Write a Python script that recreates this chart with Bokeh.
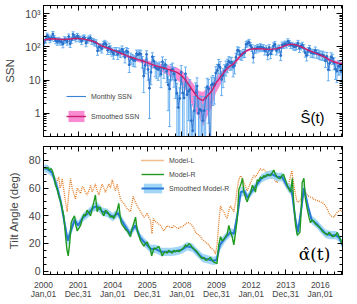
import numpy as np
from bokeh.plotting import figure
from bokeh.layouts import column
from bokeh.models import (Range1d, FixedTicker, LinearAxis, LogAxis, Legend,
                          LegendItem, Label, CustomJSTickFormatter)
from bokeh.embed import file_html
from bokeh.resources import INLINE

FONT = "Liberation Sans"

# ---------------- data ----------------
x_ticks = [2000, 2002, 2004, 2006, 2008, 2010, 2012, 2014, 2016]
x_tick_labels = ["2000\nJan,01", "2001\nDec,31", "2004\nJan,01", "2005\nDec,31",
                 "2008\nJan,01", "2009\nDec,31", "2012\nJan,01", "2013\nDec,31",
                 "2016\nJan,01"]

ssn_start_year = 2000
ssn_monthly = [
    133.1, 165.7, 217.7, 191.5, 165.9, 188.0, 244.3, 180.5, 156.0, 141.6, 158.1, 143.3,
    142.6, 121.5, 165.8, 161.7, 142.1, 202.9, 123.0, 161.5, 238.2, 194.1, 176.6, 213.4,
    184.6, 170.2, 147.1, 186.9, 187.5, 128.8, 161.0, 175.6, 187.9, 151.2, 147.2, 135.3,
    133.5, 75.7, 100.7, 97.9, 86.8, 118.7, 128.3, 115.4, 78.5, 97.8, 82.9, 72.2,
    60.6, 74.6, 74.8, 59.2, 72.8, 66.5, 83.8, 69.7, 48.8, 74.2, 70.1, 28.9,
    48.1, 43.5, 39.6, 38.7, 61.9, 56.8, 62.4, 60.5, 37.2, 13.2, 27.5, 59.3,
    20.9, 5.7, 17.3, 50.3, 37.2, 24.5, 22.2, 20.8, 23.7, 14.9, 35.7, 22.3,
    29.3, 18.4, 7.2, 5.4, 19.5, 21.3, 15.1, 9.8, 4.0, 1.5, 2.8, 17.3,
    4.1, 2.9, 15.5, 3.6, 4.6, 5.2, 0.6, 0.3, 1.2, 4.2, 6.6, 1.0,
    1.3, 1.2, 0.6, 1.2, 2.9, 6.3, 5.5, 0.0, 7.1, 7.7, 6.9, 16.3,
    19.5, 28.5, 24.0, 10.4, 13.9, 18.8, 25.2, 29.6, 36.4, 33.6, 34.4, 24.5,
    27.3, 48.3, 78.6, 76.1, 58.2, 56.1, 64.5, 65.8, 120.1, 125.7, 139.1, 109.3,
    94.4, 47.8, 86.6, 85.9, 96.5, 92.0, 100.1, 94.8, 93.7, 76.5, 87.6, 56.8,
    96.1, 60.9, 78.3, 107.3, 120.2, 76.7, 86.2, 91.8, 54.5, 114.4, 113.9, 124.2,
    117.0, 146.1, 128.7, 112.5, 112.5, 102.9, 100.2, 106.9, 130.0, 90.0, 103.6, 112.9,
    93.0, 66.7, 54.5, 75.3, 88.8, 66.5, 65.8, 64.4, 78.6, 63.6, 62.2, 58.0,
    57.0, 56.4, 54.1, 37.9, 51.5, 20.5, 32.4, 50.2, 44.6, 33.4, 21.4, 18.5,
    26.1, 26.4, 17.7, 32.3]
ssn_err = [
    30, 35, 40, 38, 34, 36, 45, 36, 32, 30, 33, 30,
    30, 28, 35, 34, 30, 40, 27, 34, 45, 38, 36, 40,
    37, 34, 31, 37, 37, 28, 33, 35, 37, 31, 31, 29,
    28, 20, 24, 24, 22, 27, 28, 26, 20, 30, 24, 20,
    18, 20, 20, 18, 20, 19, 22, 19, 16, 20, 19, 12,
    16, 15, 14, 14, 18, 17, 18, 18, 14, 9, 12, 17,
    11, 5, 10, 16, 14, 12, 11, 11, 11, 9, 14, 11,
    12, 10, 6, 5, 10, 11, 9, 7, 4, 2, 3, 10,
    4, 3, 9, 4, 4, 5, 1.2, 0.8, 2, 4, 5, 1.8,
    2, 2, 1.2, 2, 3, 5, 5, 0, 5, 6, 5, 9,
    10, 13, 12, 7, 8, 10, 12, 13, 14, 14, 14, 12,
    12, 16, 21, 20, 17, 17, 18, 18, 25, 26, 28, 24,
    22, 15, 21, 21, 22, 22, 23, 22, 22, 20, 21, 16,
    22, 17, 20, 24, 25, 20, 21, 22, 16, 24, 24, 25,
    25, 28, 26, 24, 24, 23, 23, 24, 26, 22, 23, 24,
    22, 18, 17, 20, 21, 18, 18, 18, 20, 18, 18, 17,
    17, 17, 16, 14, 16, 11, 13, 16, 15, 13, 11, 10,
    12, 12, 10, 13]

# smoothed SSN: (time, value, uncertainty)
ssn_smoothed = [
    (2000.04, 160, 8), (2000.29, 172, 8), (2000.54, 175, 8), (2000.79, 172, 8),
    (2001.04, 166, 8), (2001.29, 167, 8), (2001.54, 172, 8), (2001.79, 178, 8), (2001.96, 180, 8),
    (2002.21, 175, 8), (2002.46, 165, 8), (2002.71, 155, 8), (2002.96, 140, 7),
    (2003.21, 118, 7), (2003.46, 102, 6), (2003.71, 92, 6), (2003.96, 82, 6),
    (2004.21, 72, 6), (2004.46, 64, 6), (2004.71, 57, 6), (2004.96, 50, 6),
    (2005.21, 46, 6), (2005.46, 41, 6), (2005.71, 38, 6), (2005.96, 34, 6),
    (2006.21, 30, 6), (2006.46, 27, 6), (2006.71, 25, 6), (2006.96, 23, 7),
    (2007.21, 21, 7), (2007.46, 19, 7), (2007.71, 17, 7), (2007.96, 14, 6),
    (2008.21, 10, 5), (2008.46, 6.5, 4), (2008.71, 4.2, 3), (2008.96, 2.8, 2),
    (2009.21, 2.4, 2), (2009.46, 3.3, 2.5), (2009.71, 4.5, 3), (2009.96, 8, 4),
    (2010.21, 12, 5), (2010.46, 18, 5), (2010.71, 25, 5), (2010.96, 30, 5),
    (2011.21, 42, 6), (2011.46, 60, 6), (2011.71, 75, 7), (2011.96, 85, 7),
    (2012.21, 87, 7), (2012.46, 88, 7), (2012.71, 86, 7), (2012.96, 84, 7),
    (2013.21, 85, 7), (2013.46, 88, 7), (2013.71, 95, 7), (2013.96, 108, 7),
    (2014.29, 120, 7), (2014.54, 115, 7), (2014.79, 105, 7),
    (2015.04, 92, 7), (2015.29, 80, 6), (2015.54, 70, 6), (2015.79, 62, 6),
    (2016.04, 55, 6), (2016.29, 48, 5), (2016.54, 40, 5), (2016.79, 35, 5),
    (2017.04, 32, 5), (2017.29, 30, 5)]

# tilt angles (deg): (time, value)
model_l = [
    (2000.05, 75), (2000.15, 74), (2000.25, 75), (2000.35, 72), (2000.45, 73), (2000.55, 70),
    (2000.62, 68), (2000.69, 67), (2000.75, 62), (2000.82, 66), (2000.89, 68), (2000.95, 60),
    (2001.02, 62), (2001.08, 67), (2001.18, 58), (2001.27, 50), (2001.37, 43), (2001.45, 55),
    (2001.56, 67), (2001.66, 60), (2001.75, 56), (2001.85, 52), (2001.95, 60), (2002.05, 58),
    (2002.14, 56), (2002.24, 61), (2002.33, 60), (2002.42, 57), (2002.52, 55), (2002.62, 58),
    (2002.72, 62), (2002.81, 57), (2002.91, 60), (2003.0, 63), (2003.1, 58), (2003.2, 55),
    (2003.29, 59), (2003.39, 63), (2003.49, 60), (2003.58, 57), (2003.68, 60), (2003.78, 63),
    (2003.87, 60), (2003.97, 66), (2004.06, 62), (2004.16, 58), (2004.26, 63), (2004.35, 57),
    (2004.45, 52), (2004.55, 50), (2004.64, 49), (2004.74, 47), (2004.84, 45), (2004.93, 44),
    (2005.03, 43), (2005.1, 48), (2005.18, 54), (2005.3, 50), (2005.42, 47), (2005.52, 45),
    (2005.61, 43), (2005.7, 41), (2005.8, 39), (2005.9, 40), (2005.99, 42), (2006.08, 39),
    (2006.18, 37), (2006.27, 27), (2006.35, 38), (2006.45, 36), (2006.57, 35), (2006.66, 34),
    (2006.76, 33), (2006.86, 31), (2006.95, 29), (2007.05, 31), (2007.15, 33), (2007.24, 32),
    (2007.34, 32), (2007.44, 31), (2007.53, 33), (2007.63, 32), (2007.73, 31), (2007.82, 31),
    (2007.92, 32), (2008.02, 32), (2008.11, 33), (2008.21, 34), (2008.31, 35), (2008.4, 35),
    (2008.5, 34), (2008.6, 33), (2008.69, 31), (2008.79, 28), (2008.88, 27), (2008.98, 26),
    (2009.08, 25), (2009.17, 23), (2009.27, 22), (2009.36, 21), (2009.46, 20), (2009.55, 19),
    (2009.65, 17), (2009.75, 16), (2009.84, 15), (2009.94, 12.5), (2010.03, 19), (2010.13, 35),
    (2010.23, 47), (2010.32, 44), (2010.42, 43), (2010.52, 40), (2010.62, 38), (2010.71, 44),
    (2010.81, 47), (2010.9, 45), (2011.0, 43), (2011.1, 50), (2011.2, 60), (2011.29, 66),
    (2011.39, 69), (2011.48, 67), (2011.58, 64), (2011.68, 61), (2011.77, 58), (2011.87, 61),
    (2011.97, 64), (2012.07, 67), (2012.16, 69), (2012.25, 68), (2012.35, 70), (2012.44, 72),
    (2012.54, 74), (2012.64, 73), (2012.73, 73.5), (2012.83, 72), (2012.93, 71.5), (2013.02, 70),
    (2013.12, 68), (2013.21, 67), (2013.31, 67), (2013.4, 65), (2013.5, 64), (2013.6, 67),
    (2013.7, 70), (2013.78, 67), (2013.87, 64), (2013.98, 62), (2014.09, 59.5), (2014.19, 64),
    (2014.28, 69), (2014.35, 72.5), (2014.42, 67), (2014.47, 62), (2014.57, 55), (2014.66, 50),
    (2014.76, 50), (2014.86, 51), (2014.95, 56), (2015.05, 59.5), (2015.14, 57), (2015.24, 55),
    (2015.34, 54), (2015.43, 53.5), (2015.53, 53), (2015.62, 52), (2015.72, 51.5), (2015.82, 51),
    (2015.92, 50.5), (2016.01, 50), (2016.1, 49.5), (2016.2, 48.7), (2016.3, 47), (2016.4, 45),
    (2016.5, 42), (2016.59, 40), (2016.69, 39.5), (2016.78, 39), (2016.88, 41), (2016.98, 42.6),
    (2017.07, 43.5), (2017.17, 44), (2017.27, 43)]

model_r = [
    (2000.05, 75), (2000.15, 74), (2000.25, 75), (2000.35, 73), (2000.45, 74), (2000.55, 71),
    (2000.62, 67), (2000.7, 62), (2000.79, 59), (2000.87, 55), (2000.94, 52), (2001.02, 49),
    (2001.1, 44), (2001.17, 40), (2001.22, 33), (2001.27, 26), (2001.35, 16), (2001.43, 11),
    (2001.52, 21), (2001.6, 35), (2001.7, 38), (2001.79, 40), (2001.87, 33), (2001.95, 29),
    (2002.05, 31), (2002.14, 33), (2002.24, 38), (2002.33, 41), (2002.42, 40), (2002.52, 44),
    (2002.62, 42), (2002.72, 40), (2002.81, 45), (2002.91, 50), (2003.0, 55), (2003.1, 43),
    (2003.2, 46), (2003.29, 46), (2003.39, 42), (2003.49, 40), (2003.58, 44), (2003.68, 43),
    (2003.78, 41), (2003.87, 39), (2003.97, 40), (2004.06, 38), (2004.16, 41), (2004.26, 44),
    (2004.35, 49), (2004.42, 41), (2004.49, 35), (2004.57, 33), (2004.64, 32), (2004.74, 30),
    (2004.84, 29), (2004.93, 27), (2005.03, 25), (2005.1, 30), (2005.18, 33), (2005.25, 36),
    (2005.32, 39), (2005.38, 33), (2005.45, 28), (2005.53, 25), (2005.61, 22), (2005.7, 20),
    (2005.8, 18), (2005.9, 20), (2005.99, 21), (2006.08, 18), (2006.18, 16), (2006.25, 11),
    (2006.32, 14), (2006.4, 17), (2006.47, 16), (2006.57, 17), (2006.66, 18), (2006.76, 15),
    (2006.86, 11), (2006.95, 13), (2007.05, 14), (2007.15, 13), (2007.24, 15), (2007.34, 14),
    (2007.44, 13), (2007.53, 15), (2007.63, 14), (2007.73, 15), (2007.82, 14), (2007.92, 15),
    (2008.02, 16), (2008.11, 17), (2008.21, 19), (2008.31, 18), (2008.4, 20), (2008.5, 19),
    (2008.6, 17), (2008.69, 16), (2008.79, 15), (2008.88, 14), (2008.98, 12), (2009.08, 10),
    (2009.17, 9), (2009.27, 10), (2009.36, 8), (2009.46, 8), (2009.55, 9), (2009.65, 10),
    (2009.75, 8), (2009.84, 6.5), (2009.94, 6), (2010.03, 5.5), (2010.13, 19), (2010.23, 25),
    (2010.32, 22), (2010.42, 23), (2010.52, 25), (2010.62, 27), (2010.71, 33), (2010.81, 28),
    (2010.9, 25), (2011.0, 19), (2011.1, 28), (2011.2, 38), (2011.29, 59), (2011.39, 62),
    (2011.5, 67), (2011.58, 57), (2011.68, 53), (2011.77, 50), (2011.87, 54), (2011.97, 57),
    (2012.07, 62), (2012.16, 60), (2012.25, 57), (2012.35, 66), (2012.44, 65), (2012.54, 68),
    (2012.64, 67), (2012.73, 69), (2012.83, 68), (2012.93, 70), (2013.02, 69), (2013.12, 69),
    (2013.21, 71), (2013.31, 73), (2013.4, 70), (2013.5, 68), (2013.6, 67), (2013.7, 67),
    (2013.78, 69), (2013.87, 70), (2013.98, 66), (2014.09, 62), (2014.19, 59), (2014.28, 57),
    (2014.38, 67), (2014.47, 48), (2014.57, 33), (2014.66, 26), (2014.75, 27), (2014.82, 28),
    (2014.9, 45), (2014.95, 64), (2015.05, 67), (2015.14, 52), (2015.24, 45), (2015.34, 39),
    (2015.43, 35), (2015.53, 37), (2015.62, 36), (2015.72, 34), (2015.82, 33), (2015.92, 32),
    (2016.01, 31), (2016.1, 29), (2016.2, 28), (2016.3, 27), (2016.4, 26), (2016.5, 28),
    (2016.59, 27), (2016.69, 25), (2016.78, 25), (2016.88, 26), (2016.98, 28), (2017.07, 25),
    (2017.17, 23), (2017.27, 19)]

# smoothed Model-R: (time, value, uncertainty)
model_r_smoothed = [
    (2000.05, 74, 3), (2000.2, 74, 3), (2000.5, 71, 3), (2000.8, 60, 4),
    (2001.0, 50, 4), (2001.2, 36, 4), (2001.4, 22, 4), (2001.6, 30, 4), (2001.8, 37, 3),
    (2002.0, 33, 3), (2002.3, 39, 3), (2002.6, 42, 3), (2002.9, 46, 3),
    (2003.1, 47, 3), (2003.4, 43, 3), (2003.7, 42, 3),
    (2004.0, 39, 3), (2004.3, 42, 3), (2004.5, 37, 3), (2004.8, 31, 3),
    (2005.0, 27, 3), (2005.3, 33, 3), (2005.6, 24, 3), (2005.9, 20, 3),
    (2006.2, 16, 3), (2006.5, 16, 3), (2006.8, 14, 3),
    (2007.1, 14, 3), (2007.4, 14, 3), (2007.7, 14.5, 3),
    (2008.0, 15.5, 3), (2008.3, 18, 3), (2008.6, 17, 3), (2008.9, 13, 3),
    (2009.2, 9.5, 3), (2009.5, 8.5, 3), (2009.8, 7.5, 3),
    (2010.0, 8, 3), (2010.2, 19, 4), (2010.5, 24, 3), (2010.8, 28, 3),
    (2011.0, 27, 3), (2011.2, 40, 4), (2011.4, 57, 4), (2011.6, 58, 3), (2011.8, 53, 3),
    (2012.0, 57, 3), (2012.3, 62, 3), (2012.6, 67, 3), (2012.9, 69, 3),
    (2013.2, 70, 3), (2013.5, 68, 3), (2013.8, 68, 3),
    (2014.1, 61, 3), (2014.35, 58, 4), (2014.55, 38, 4), (2014.7, 28, 4), (2014.9, 45, 4),
    (2015.05, 60, 4), (2015.3, 46, 3), (2015.5, 37, 3), (2015.8, 34, 3),
    (2016.0, 31, 3), (2016.3, 27, 3), (2016.6, 26, 3), (2016.9, 26, 3),
    (2017.1, 24, 3), (2017.27, 19, 3)]

# ---------------- derived arrays for drawing ----------------
ssn_v = np.array(ssn_monthly, dtype=float)
ssn_e = np.array(ssn_err, dtype=float)
ssn_t = ssn_start_year + (np.arange(len(ssn_v)) + 0.5) / 12.0
FLOOR = 0.02
ssn_draw = np.maximum(ssn_v, FLOOR)
ssn_lo = np.maximum(ssn_v - ssn_e, FLOOR)
ssn_hi = ssn_v + ssn_e

sm_t = np.array([a[0] for a in ssn_smoothed])
sm_v = np.array([a[1] for a in ssn_smoothed], dtype=float)
sm_e = np.array([a[2] for a in ssn_smoothed], dtype=float)
sm_lo = np.maximum(sm_v - sm_e, FLOOR)
sm_hi = sm_v + sm_e

l_t = [a[0] for a in model_l]
l_v = [a[1] for a in model_l]
r_t = [a[0] for a in model_r]
r_v = [a[1] for a in model_r]
rs_t = np.array([a[0] for a in model_r_smoothed])
rs_v = np.array([a[1] for a in model_r_smoothed], dtype=float)
rs_e = np.array([a[2] for a in model_r_smoothed], dtype=float)

X0, X1 = 2000.0, 2017.28
x_minor = [round(v, 2) for v in np.arange(2000.0, 2017.3, 0.4)]


def hide_labels(ax):
    ax.formatter = CustomJSTickFormatter(code="return ' ';")
    ax.major_label_text_font_size = "1px"
    ax.major_label_standoff = 0


def style_x_axis(ax, show_labels):
    ax.ticker = FixedTicker(ticks=x_ticks, minor_ticks=x_minor)
    ax.major_tick_in = 5
    ax.major_tick_out = 0
    ax.minor_tick_in = 3
    ax.minor_tick_out = 0
    ax.axis_line_color = "black"
    if show_labels:
        ax.major_label_overrides = dict(zip(x_ticks, x_tick_labels))
        ax.major_label_text_font = FONT
        ax.major_label_text_font_size = "8.5px"
        ax.major_label_text_line_height = 0.9
        ax.major_label_standoff = 5
    else:
        hide_labels(ax)


def style_y_axis(ax, ticker, show_labels, overrides=None, major_in=6, minor_in=3):
    ax.ticker = ticker
    ax.major_tick_in = major_in
    ax.major_tick_out = 0
    ax.minor_tick_in = minor_in
    ax.minor_tick_out = 0
    ax.axis_line_color = "black"
    if show_labels:
        if overrides:
            ax.major_label_overrides = overrides
        ax.major_label_text_font = FONT
        ax.major_label_text_font_size = "10.5px"
        ax.major_label_standoff = 3
        ax.axis_label_text_font = FONT
        ax.axis_label_text_font_size = "11.5px"
        ax.axis_label_text_font_style = "normal"
        ax.axis_label_standoff = 6
    else:
        hide_labels(ax)


# ---------------- top panel: SSN ----------------
p1 = figure(frame_width=299, frame_height=131, x_range=Range1d(X0, X1),
            y_range=Range1d(0.2, 1750), y_axis_type="log",
            output_backend="svg", toolbar_location=None,
            min_border_left=43, min_border_right=6, min_border_top=5,
            min_border_bottom=5)
p1.xgrid.visible = False
p1.ygrid.visible = False
p1.outline_line_color = "black"

log_ticks = [1, 10, 100, 1000]
log_minor = [m * 10.0 ** d for d in range(-1, 4) for m in range(2, 10)]
style_x_axis(p1.xaxis[0], False)
style_y_axis(p1.yaxis[0], FixedTicker(ticks=log_ticks, minor_ticks=log_minor), True,
             {1: "1", 10: "10", 100: "10²", 1000: "10³"})
p1.yaxis[0].axis_label = "SSN"

top1 = LinearAxis()
style_x_axis(top1, False)
p1.add_layout(top1, "above")
right1 = LogAxis()
style_y_axis(right1, FixedTicker(ticks=log_ticks, minor_ticks=log_minor), False)
p1.add_layout(right1, "right")

band1 = p1.varea(x=sm_t, y1=sm_lo, y2=sm_hi, fill_color="#f98bd2", fill_alpha=1.0)
p1.segment(x0=ssn_t, y0=ssn_lo, x1=ssn_t, y1=ssn_hi, line_color="#66aef0", line_width=1)
p1.scatter(x=np.concatenate([ssn_t, ssn_t]), y=np.concatenate([ssn_lo, ssn_hi]),
           marker="dash", size=3, line_color="#66aef0", line_width=1)
l_ssn = p1.line(x=ssn_t, y=ssn_draw, line_color="#3b82d6", line_width=1.1)
pt_ssn = p1.scatter(x=ssn_t, y=ssn_draw, marker="circle", size=2,
                    fill_color="#2a6fc9", line_color="#2a6fc9")
l_sm = p1.line(x=sm_t, y=sm_v, line_color="#c8206e", line_width=1.4)

leg1 = Legend(items=[LegendItem(label="Monthly SSN", renderers=[l_ssn]),
                     LegendItem(label="Smoothed SSN", renderers=[band1, l_sm])],
              location=(22, 12), background_fill_alpha=0, border_line_alpha=0,
              label_text_font=FONT, label_text_font_size="7px",
              glyph_width=20, glyph_height=14, label_height=14, spacing=6,
              padding=1, margin=0, label_standoff=5)
p1.add_layout(leg1)
p1.add_layout(Label(x=2014.85, y=0.42, text="Ŝ(t)", text_font=FONT,
                    text_font_size="15px", text_color="black"))

# ---------------- bottom panel: tilt angle ----------------
p2 = figure(frame_width=299, frame_height=128, x_range=p1.x_range,
            y_range=Range1d(-2.4, 90),
            output_backend="svg", toolbar_location=None,
            min_border_left=43, min_border_right=6, min_border_top=5,
            min_border_bottom=2)
p2.xgrid.visible = False
p2.ygrid.visible = False
p2.outline_line_color = "black"

lin_ticks = [0, 20, 40, 60, 80]
lin_minor = list(range(0, 91, 5))
style_x_axis(p2.xaxis[0], True)
style_y_axis(p2.yaxis[0], FixedTicker(ticks=lin_ticks, minor_ticks=lin_minor), True,
             major_in=5, minor_in=3)
p2.yaxis[0].axis_label = "Tilt Angle (deg)"
top2 = LinearAxis()
style_x_axis(top2, False)
p2.add_layout(top2, "above")
right2 = LinearAxis()
style_y_axis(right2, FixedTicker(ticks=lin_ticks, minor_ticks=lin_minor), False,
             major_in=5, minor_in=3)
p2.add_layout(right2, "right")

rL = p2.line(x=l_t, y=l_v, line_color="#e27a22", line_width=1.3, line_dash="1 1")
band2 = p2.varea(x=rs_t, y1=rs_v - rs_e, y2=rs_v + rs_e, fill_color="#97d1f7",
                 fill_alpha=0.9)
rS = p2.line(x=rs_t, y=rs_v, line_color="#2a78d6", line_width=2.0)
rR = p2.line(x=r_t, y=r_v, line_color="#1e9a1e", line_width=1.4)

leg2 = Legend(items=[LegendItem(label="Model-L", renderers=[rL]),
                     LegendItem(label="Model-R", renderers=[rR]),
                     LegendItem(label="Smoothed Model-R", renderers=[band2, rS])],
              location=(97, 79), background_fill_alpha=0, border_line_alpha=0,
              label_text_font=FONT, label_text_font_size="7px",
              glyph_width=23, glyph_height=12, label_height=12, spacing=2,
              padding=1, margin=0, label_standoff=5)
p2.add_layout(leg2)
p2.add_layout(Label(x=2014.75, y=5.0, text="α̂(t)", text_font="DejaVu Serif",
                    text_font_size="17px", text_color="black"))

layout = column(p1, p2, spacing=0)
open("out.html", "w").write(file_html(layout, INLINE))
